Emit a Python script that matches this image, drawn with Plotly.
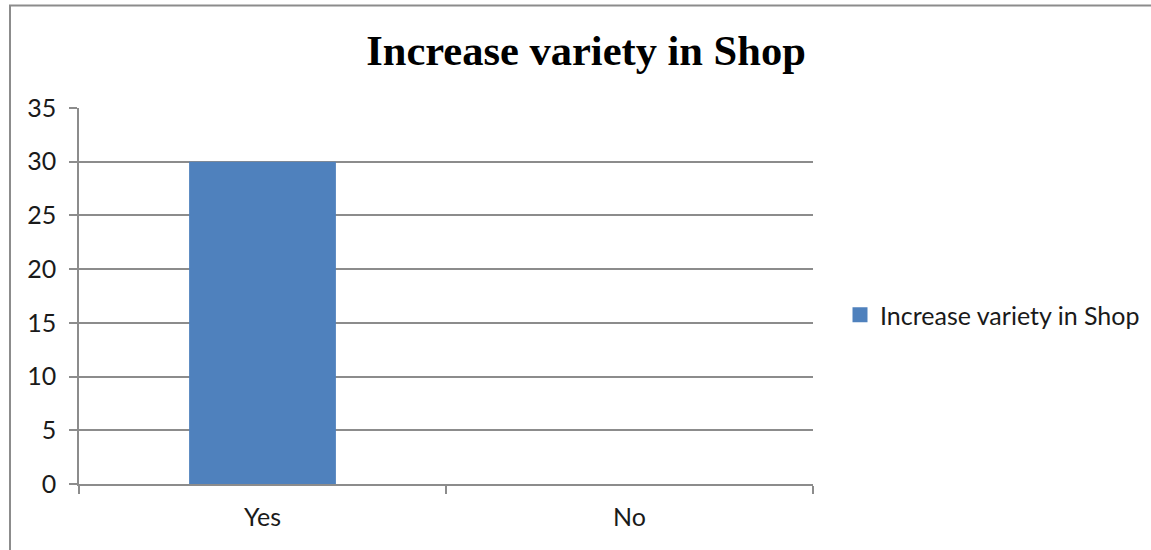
import plotly.graph_objects as go

# Survey responses
categories = ["Yes", "No"]
counts = [30, 0]
series_name = "Increase variety in Shop"
y_ticks = [0, 5, 10, 15, 20, 25, 30, 35]

W, H = 1151, 550
L, R, T, B = 79, 338, 108, 66
plot_w = W - L - R
plot_h = H - T - B

def px_to_paper_x(px):
    return (px - L) / plot_w

def px_to_paper_y(py):
    return (H - B - py) / plot_h

grey = "#8c8c8c"
bar_blue = "#4F81BD"
label_font = dict(family="Lato, Calibri, sans-serif", size=25, color="#1a1a1a")

fig = go.Figure()

fig.add_trace(
    go.Bar(
        x=categories,
        y=counts,
        name=series_name,
        marker=dict(color=bar_blue, line=dict(width=0)),
        width=0.4,
        showlegend=False,
    )
)

# Legend entry with a larger square swatch
fig.add_trace(
    go.Scatter(
        x=[None],
        y=[None],
        mode="markers",
        name=series_name,
        marker=dict(symbol="square", size=15, color=bar_blue),
        showlegend=True,
        hoverinfo="skip",
    )
)

fig.update_layout(
    width=W,
    height=H,
    margin=dict(l=L, r=R, t=T, b=B, pad=0, autoexpand=False),
    paper_bgcolor="white",
    plot_bgcolor="white",
    title=dict(
        text="<b>Increase variety in Shop</b>",
        font=dict(family="Liberation Serif, Times New Roman, serif", size=42.5, color="black"),
        x=px_to_paper_x(586),
        xref="paper",
        xanchor="center",
        y=1 - 50 / H,
        yref="container",
        yanchor="middle",
    ),
    showlegend=True,
    legend=dict(
        x=px_to_paper_x(840),
        xanchor="left",
        y=px_to_paper_y(315),
        yanchor="middle",
        font=label_font,
        bgcolor="rgba(0,0,0,0)",
    ),
    bargap=0.6,
)

fig.update_xaxes(
    type="category",
    categoryorder="array",
    categoryarray=categories,
    showgrid=False,
    showline=True,
    linecolor=grey,
    linewidth=1.5,
    ticks="outside",
    tickson="boundaries",
    ticklen=8,
    tickcolor=grey,
    tickwidth=1.5,
    tickfont=label_font,
    ticklabelstandoff=10,
    zeroline=False,
)

fig.update_yaxes(
    range=[0, 35],
    tickvals=y_ticks,
    showgrid=True,
    gridcolor=grey,
    gridwidth=1.5,
    showline=True,
    linecolor=grey,
    linewidth=1.5,
    ticks="outside",
    ticklen=8,
    tickcolor=grey,
    tickwidth=1.5,
    tickfont=label_font,
    ticklabelstandoff=8,
    zeroline=False,
)

# Outer chart frame
fig.add_shape(
    type="rect",
    xref="paper",
    yref="paper",
    x0=px_to_paper_x(10),
    x1=px_to_paper_x(1170),
    y0=px_to_paper_y(570),
    y1=px_to_paper_y(5.5),
    line=dict(color=grey, width=2),
    fillcolor="rgba(0,0,0,0)",
    layer="below",
)

fig.write_html("out.html")
